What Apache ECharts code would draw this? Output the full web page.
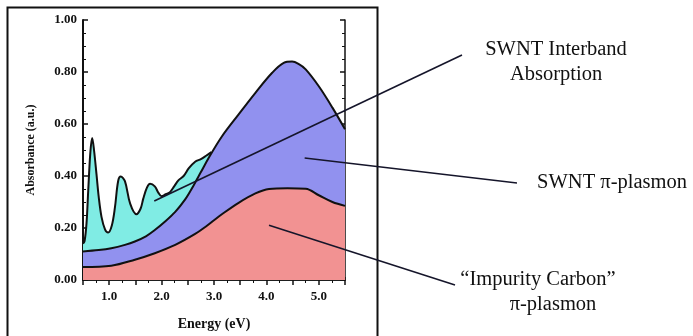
<!DOCTYPE html>
<html>
<head>
<meta charset="utf-8">
<script src="https://cdn.jsdelivr.net/npm/echarts@6/dist/echarts.min.js"></script>
<style>
  html, body { margin: 0; padding: 0; background: #fff; }
  #chart { width: 693px; height: 336px; }
</style>
</head>
<body>
<div id="chart"></div>
<script>
  // SWNT interband absorption (cyan, top layer at low energy)
  var interbandEnergy = [0.5, 0.53, 0.567, 0.6, 0.64, 0.675, 0.71, 0.757, 0.8, 0.853, 0.92, 0.98, 1.05, 1.11, 1.17, 1.22, 1.3, 1.4, 1.52, 1.6, 1.65, 1.72, 1.78, 1.87, 1.94, 2.0, 2.08, 2.16, 2.24, 2.32, 2.42, 2.52, 2.64, 2.75, 2.85, 2.95];
  var interbandValue = [0.14, 0.15, 0.218, 0.345, 0.49, 0.546, 0.5, 0.408, 0.32, 0.243, 0.195, 0.183, 0.21, 0.28, 0.38, 0.398, 0.38, 0.294, 0.253, 0.275, 0.313, 0.355, 0.37, 0.36, 0.335, 0.322, 0.33, 0.338, 0.36, 0.383, 0.4, 0.43, 0.455, 0.465, 0.478, 0.492];

  // SWNT pi-plasmon (blue)
  var plasmonEnergy = [0.5, 0.8, 1.04, 1.3, 1.49, 1.7, 1.87, 2.05, 2.26, 2.45, 2.6, 2.75, 2.9, 3.15, 3.47, 3.79, 4.11, 4.33, 4.49, 4.62, 4.75, 5.0, 5.26, 5.5];
  var plasmonValue = [0.11, 0.115, 0.122, 0.135, 0.148, 0.168, 0.192, 0.222, 0.262, 0.31, 0.36, 0.415, 0.47, 0.552, 0.637, 0.72, 0.797, 0.835, 0.84, 0.83, 0.81, 0.745, 0.663, 0.58];

  // "Impurity Carbon" pi-plasmon (red)
  var carbonEnergy = [0.5, 1.04, 1.49, 1.87, 2.26, 2.64, 2.84, 3.0, 3.15, 3.47, 3.79, 4.05, 4.4, 4.75, 5.0, 5.26, 5.5];
  var carbonValue = [0.05, 0.055, 0.078, 0.103, 0.135, 0.177, 0.205, 0.23, 0.253, 0.297, 0.333, 0.35, 0.353, 0.351, 0.326, 0.3, 0.285];

  var xTicks = [1, 2, 3, 4, 5];

  function pairs(xs, ys) {
    return xs.map(function (x, i) { return [x, ys[i]]; });
  }

  var serif = '"Liberation Serif", "DejaVu Serif", serif';
  var chart = echarts.init(document.getElementById('chart'));

  function areaSeries(name, xs, ys, fill) {
    return {
      name: name,
      type: 'line',
      data: pairs(xs, ys),
      smooth: 0.35,
      showSymbol: false,
      silent: true,
      lineStyle: { color: '#111', width: 2 },
      areaStyle: { color: fill, opacity: 1 }
    };
  }

  var tickStyle = { show: true, inside: true, length: 5, lineStyle: { color: '#111', width: 1.5 } };
  var minorStyle = { show: true, splitNumber: 2, length: 3, lineStyle: { color: '#111', width: 1 } };

  chart.setOption({
    animation: false,
    backgroundColor: '#fff',
    grid: { left: 83, right: 348, top: 20, bottom: 54 },
    xAxis: [{
      type: 'value',
      min: 0.5,
      max: 5.5,
      interval: 0.5,
      name: 'Energy (eV)',
      nameLocation: 'middle',
      nameGap: 37,
      nameTextStyle: { fontFamily: serif, fontWeight: 'bold', fontSize: 14, color: '#111' },
      axisLine: { lineStyle: { color: '#111', width: 1.5 } },
      axisTick: { show: true, inside: true, length: 3, lineStyle: { color: '#222', width: 1 } },
      axisLabel: {
        fontFamily: serif, fontWeight: 'bold', fontSize: 13, color: '#111', margin: 10,
        formatter: function (v) { return xTicks.indexOf(v) >= 0 ? v.toFixed(1) : ''; }
      },
      splitLine: { show: false }
    }, {
      type: 'value',
      position: 'top',
      min: 0.5,
      max: 5.5,
      interval: 0.5,
      axisLine: { lineStyle: { color: '#111', width: 1.5 } },
      axisTick: tickStyle,
      minorTick: minorStyle,
      axisLabel: { show: false },
      splitLine: { show: false }
    }],
    yAxis: [{
      type: 'value',
      min: 0,
      max: 1,
      interval: 0.2,
      name: 'Absorbance (a.u.)',
      nameLocation: 'middle',
      nameGap: 46,
      nameTextStyle: { fontFamily: serif, fontWeight: 'bold', fontSize: 12, color: '#111' },
      axisLine: { show: true, lineStyle: { color: '#111', width: 2 } },
      axisTick: tickStyle,
      minorTick: { show: true, splitNumber: 4, length: 3, lineStyle: { color: '#111', width: 1 } },
      axisLabel: {
        fontFamily: serif, fontWeight: 'bold', fontSize: 13, color: '#111', margin: 6,
        formatter: function (v) { return v.toFixed(2); }
      },
      splitLine: { show: false }
    }, {
      type: 'value',
      position: 'right',
      min: 0,
      max: 1,
      interval: 0.2,
      axisLine: { show: true, lineStyle: { color: '#111', width: 1.5 } },
      axisTick: tickStyle,
      minorTick: { show: true, splitNumber: 4, length: 3, lineStyle: { color: '#111', width: 1 } },
      axisLabel: { show: false },
      splitLine: { show: false }
    }],
    series: [
      areaSeries('SWNT Interband Absorption', interbandEnergy, interbandValue, '#80ece4'),
      areaSeries('SWNT π-plasmon', plasmonEnergy, plasmonValue, '#9191ef'),
      areaSeries('Impurity Carbon π-plasmon', carbonEnergy, carbonValue, '#f29292')
    ]
  });

  // leader lines: start at a point in the plot (data coords), end next to the label
  var callouts = [
    { at: [1.86, 0.304], end: [462, 55] },
    { at: [4.73, 0.469], end: [517, 183] },
    { at: [4.05, 0.211], end: [455, 285] }
  ];

  var graphics = [{
    type: 'rect',
    shape: { x: 7.5, y: 7.5, width: 370, height: 340 },
    style: { fill: 'none', stroke: '#111', lineWidth: 2 },
    silent: true
  }];

  callouts.forEach(function (c) {
    var p = chart.convertToPixel({ gridIndex: 0 }, c.at);
    graphics.push({
      type: 'line',
      shape: { x1: p[0], y1: p[1], x2: c.end[0], y2: c.end[1] },
      style: { stroke: '#15152a', lineWidth: 1.6 },
      z: 100,
      silent: true
    });
  });

  var labelFont = '20.5px "Liberation Serif", "DejaVu Serif", serif';
  [
    { text: 'SWNT Interband', x: 556, y: 50 },
    { text: 'Absorption', x: 556, y: 75 },
    { text: 'SWNT π-plasmon', x: 612, y: 183 },
    { text: '\u201cImpurity Carbon\u201d', x: 538, y: 280 },
    { text: 'π-plasmon', x: 553, y: 305 }
  ].forEach(function (t) {
    graphics.push({
      type: 'text',
      x: t.x,
      y: t.y,
      style: { text: t.text, font: labelFont, fill: '#111', align: 'center', verticalAlign: 'middle' },
      z: 100,
      silent: true
    });
  });

  chart.setOption({ graphic: graphics });
</script>
</body>
</html>
